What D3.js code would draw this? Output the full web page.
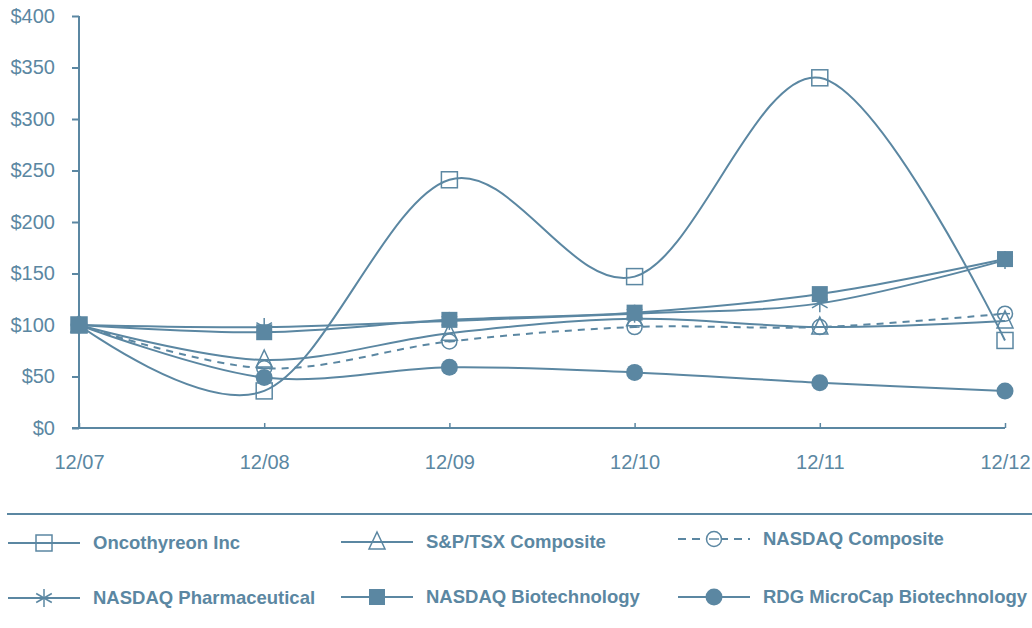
<!DOCTYPE html>
<html>
<head>
<meta charset="utf-8">
<script src="https://cdn.jsdelivr.net/npm/d3@7"></script>
<style>
  body { margin: 0; background: #fff; }
  svg { display: block; font-family: "Liberation Sans", Arial, sans-serif; }
</style>
</head>
<body>
<div id="chart"></div>
<script>
const COLOR = "#5b87a2";

const years = ["12/07", "12/08", "12/09", "12/10", "12/11", "12/12"];
const yTicks = [0, 50, 100, 150, 200, 250, 300, 350, 400];

const oncothyreon = [100, 36, 241, 147, 340, 85];
const spTsx = [100, 66, 92, 106, 98, 104];
const nasdaqComp = [100, 58, 84, 98, 98, 111];
const nasdaqPharma = [100, 98, 104, 111, 121, 163];
const nasdaqBio = [100, 93, 105, 112, 130, 164];
const rdgMicro = [100, 49, 59, 54, 44, 36];

const series = [
  { name: "Oncothyreon Inc", values: oncothyreon, marker: "square", dash: null },
  { name: "S&P/TSX Composite", values: spTsx, marker: "triangle", dash: null },
  { name: "NASDAQ Composite", values: nasdaqComp, marker: "circleMinus", dash: "7,6" },
  { name: "NASDAQ Pharmaceutical", values: nasdaqPharma, marker: "star", dash: null },
  { name: "NASDAQ Biotechnology", values: nasdaqBio, marker: "filledSquare", dash: null },
  { name: "RDG MicroCap Biotechnology", values: rdgMicro, marker: "dot", dash: null }
];

const width = 1032, height = 628;
const margin = { left: 79, right: 27, top: 16, bottom: 200 };

const svg = d3.select("#chart").append("svg")
  .attr("width", width)
  .attr("height", height);

const x = d3.scalePoint()
  .domain(years)
  .range([margin.left, width - margin.right]);

const y = d3.scaleLinear()
  .domain([0, 400])
  .range([height - margin.bottom, margin.top]);

// y axis
const yAxis = svg.append("g")
  .attr("transform", `translate(${margin.left},0)`)
  .call(d3.axisLeft(y).tickValues(yTicks).tickSize(7).tickPadding(17).tickFormat(d => "$" + d));
yAxis.select(".domain").attr("stroke", COLOR).attr("stroke-width", 2).attr("d", `M0,${y(400)}V${y(0)}`);
yAxis.selectAll(".tick line").attr("stroke", COLOR).attr("stroke-width", 2);
yAxis.selectAll(".tick text").attr("fill", COLOR).attr("font-size", 20);

// x axis
const xAxis = svg.append("g")
  .attr("transform", `translate(0,${y(0)})`)
  .call(d3.axisBottom(x).tickSize(-5).tickPadding(27));
xAxis.select(".domain").attr("stroke", COLOR).attr("stroke-width", 2).attr("d", `M${margin.left - 7},0H${width - margin.right}`);
xAxis.selectAll(".tick line").attr("stroke", COLOR).attr("stroke-width", 1.5);
xAxis.selectAll(".tick text").attr("fill", COLOR).attr("font-size", 20);

const line = d3.line()
  .x((d, i) => x(years[i]))
  .y(d => y(d))
  .curve(d3.curveCardinal.tension(0));

function drawMarker(g, type, cx, cy) {
  const s = 8;
  if (type === "square") {
    g.append("rect").attr("x", cx - s).attr("y", cy - s).attr("width", 2 * s).attr("height", 2 * s)
      .attr("fill", "none").attr("stroke", COLOR).attr("stroke-width", 1.5);
  } else if (type === "filledSquare") {
    g.append("rect").attr("x", cx - s).attr("y", cy - s).attr("width", 2 * s).attr("height", 2 * s)
      .attr("fill", COLOR);
  } else if (type === "triangle") {
    g.append("path").attr("d", `M${cx},${cy - 10}L${cx + 8},${cy + 7}L${cx - 8},${cy + 7}Z`)
      .attr("fill", "none").attr("stroke", COLOR).attr("stroke-width", 1.5);
  } else if (type === "circleMinus") {
    g.append("circle").attr("cx", cx).attr("cy", cy).attr("r", 7.5)
      .attr("fill", "none").attr("stroke", COLOR).attr("stroke-width", 1.5);
    g.append("line").attr("x1", cx - 5).attr("x2", cx + 5).attr("y1", cy).attr("y2", cy)
      .attr("stroke", COLOR).attr("stroke-width", 1.5);
  } else if (type === "star") {
    [0, 60, 120].forEach(a => {
      const r = a * Math.PI / 180, l = 9;
      g.append("line")
        .attr("x1", cx - l * Math.sin(r)).attr("y1", cy - l * Math.cos(r))
        .attr("x2", cx + l * Math.sin(r)).attr("y2", cy + l * Math.cos(r))
        .attr("stroke", COLOR).attr("stroke-width", 1.5);
    });
  } else if (type === "dot") {
    g.append("circle").attr("cx", cx).attr("cy", cy).attr("r", 8.5).attr("fill", COLOR);
  }
}

// lines
const plot = svg.append("g");
series.forEach(s => {
  plot.append("path")
    .datum(s.values)
    .attr("d", line)
    .attr("fill", "none")
    .attr("stroke", COLOR)
    .attr("stroke-width", 2)
    .attr("stroke-dasharray", s.dash);
});
series.forEach(s => {
  const g = plot.append("g");
  s.values.forEach((v, i) => drawMarker(g, s.marker, x(years[i]), y(v)));
});

// legend
svg.append("line")
  .attr("x1", 7).attr("x2", width).attr("y1", 514).attr("y2", 514)
  .attr("stroke", COLOR).attr("stroke-width", 2);

const legendCols = [8, 341, 678];
const legendRows = [543, 598];
const rowOffsets = [[0, -1, -4], [0, -1, -1]];

series.forEach((s, i) => {
  const col = i % 3, row = Math.floor(i / 3);
  const lx = legendCols[col];
  const ly = legendRows[row] + rowOffsets[row][col];
  const g = svg.append("g");
  g.append("line")
    .attr("x1", lx).attr("x2", lx + 72).attr("y1", ly).attr("y2", ly)
    .attr("stroke", COLOR).attr("stroke-width", 2)
    .attr("stroke-dasharray", s.dash ? "8,6" : null);
  if (s.dash) {
    g.append("rect").attr("x", lx + 28).attr("y", ly - 9).attr("width", 16).attr("height", 18).attr("fill", "#fff");
  }
  drawMarker(g, s.marker, lx + 36, ly);
  g.append("text")
    .attr("x", lx + 85).attr("y", ly)
    .attr("dy", "0.35em")
    .attr("fill", COLOR)
    .attr("font-size", 18.5)
    .attr("font-weight", "bold")
    .text(s.name);
});
</script>
</body>
</html>
